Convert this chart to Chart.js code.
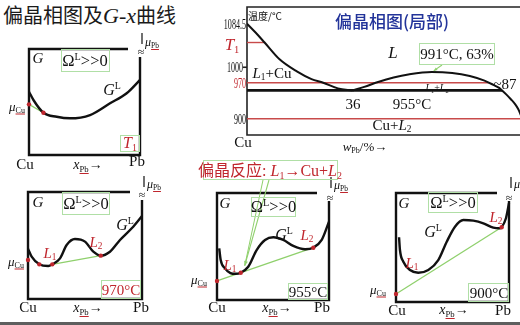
<!DOCTYPE html>
<html><head><meta charset="utf-8">
<script src="https://cdn.jsdelivr.net/npm/chart.js@4.4.1/dist/chart.umd.min.js"></script>
<style>
html,body{margin:0;padding:0;overflow:hidden}
body{width:520px;height:325px;background:#fff;position:relative;font-family:"Liberation Serif","Times New Roman",serif;color:#111}
canvas{position:absolute}
.t{position:absolute;white-space:nowrap;line-height:1;transform:translate(-50%,-50%)}
.bx{position:absolute;border:1.5px solid #b0dfa6;box-sizing:border-box}
.r{color:#c0262d}
i{font-style:italic}
sub{font-size:0.62em;vertical-align:-0.3em;line-height:0}
sup{font-size:0.62em;vertical-align:0.6em;line-height:0}
u{text-decoration-color:#c0262d;text-decoration-thickness:1px}
.cjk{font-family:"Noto Sans CJK SC",sans-serif}
</style></head><body>
<script>
// ================= DATA =================
// Local monotectic phase diagram: x = w(Pb)/%, y = temperature/°C
const pdXRange = [0, 93.8];
const pdTRange = [868.6, 1116.9];
const liqCuW = [0, 3, 6, 11, 17, 22, 26, 31, 36];
const liqCuT = [1084.5, 1067, 1048, 1016, 992, 977, 970, 959, 955];
const gapW = [36, 40, 45, 50, 55, 63, 70, 76, 81, 84, 86, 87, 88.5, 90, 91.5, 92.5, 93.2, 93.8];
const gapT = [955, 962, 972, 980, 986, 991, 989, 983, 974, 966, 960, 955, 947, 938, 928, 919, 910, 901];
const T1 = 1048;
const t1W = [0, 6];
const monoT = 955;
const monoW = [0, 87];
const isoT970 = 970;
const isoW970 = [0, 82.5];
const isoT900 = 900;
const isoW900 = [0, 93.8];
const criticalPoint = [63, 991];
const yTickValues = [1084.5, T1, 1000, 970, 900];
const yTickLabels = ['1084.5', '<i>T</i><sub>1</sub>', '1000', '970', '900'];

// G–x curves (x = x_Pb from 0 to 1, G in arbitrary units 0..100)
const gX1 = [0, 0.04, 0.13, 0.25, 0.37, 0.55, 0.73, 0.88, 1];
const gG1 = [59.7, 51.9, 39.9, 36.1, 34.6, 37.7, 48.8, 58.2, 70.8];
const dotX1 = [0, 0.13];
const dotG1 = [47.8, 39.9];

const gX2 = [0, 0.032, 0.099, 0.178, 0.213, 0.281, 0.339, 0.412, 0.5, 0.573, 0.638, 0.719, 0.807, 0.91, 1];
const gG2 = [47, 39.5, 32.4, 30.8, 32.4, 38.0, 50.5, 56.1, 53.6, 44.2, 40.5, 44.2, 55.1, 66.1, 77.6];
const dotX2 = [0, 0.099, 0.213, 0.638];
const dotG2 = [36.4, 32.4, 32.4, 40.5];

const gX3 = [0.02, 0.033, 0.071, 0.12, 0.165, 0.212, 0.279, 0.354, 0.429, 0.503, 0.592, 0.681, 0.786, 0.86, 0.935, 1];
const gG3 = [48.3, 37.4, 29.6, 25.2, 24.5, 25.5, 31.1, 46.7, 56.1, 58.6, 56.1, 50.5, 47.4, 48.9, 56.1, 73.2];
const dotX3 = [0, 0.212, 0.86];
const dotG3 = [17.8, 25.5, 48.9];

const gX4 = [0.027, 0.035, 0.065, 0.124, 0.197, 0.286, 0.374, 0.449, 0.522, 0.596, 0.684, 0.773, 0.861, 0.92, 0.935, 0.973, 1];
const gG4 = [59.4, 47.7, 37.0, 29.4, 26.9, 29.4, 38.5, 55.3, 69.1, 75.2, 74.6, 72.2, 68.2, 67.6, 68.6, 76.8, 90.6];
const dotX4 = [0, 0.935];
const dotG4 = [7.3, 68.6];

// ================= HELPERS =================
const RED = '#c0262d', REDLINE = '#c84a4a', GREEN = '#8fd06c', BLACK = '#111';
function pts(xs, ys) { return xs.map((x, i) => ({x: x, y: ys[i]})); }
function mk(left, top, w, h) {
  const c = document.createElement('canvas');
  c.width = w; c.height = h;
  c.style.left = left + 'px'; c.style.top = top + 'px';
  c.style.width = w + 'px'; c.style.height = h + 'px';
  document.body.appendChild(c);
  return c;
}
function T(html, x, y, style) {
  const d = document.createElement('div');
  d.className = 't'; d.innerHTML = html;
  d.style.left = x + 'px'; d.style.top = y + 'px';
  if (style) d.style.cssText += style;
  document.body.appendChild(d);
  return d;
}
function B(x1, y1, x2, y2) {
  const d = document.createElement('div');
  d.className = 'bx';
  d.style.left = x1 + 'px'; d.style.top = y1 + 'px';
  d.style.width = (x2 - x1) + 'px'; d.style.height = (y2 - y1) + 'px';
  document.body.appendChild(d);
}
function arrow(ctx, x1, y1, x2, y2, color, head) {
  ctx.save();
  ctx.strokeStyle = color; ctx.fillStyle = color; ctx.lineWidth = 1.1;
  ctx.beginPath(); ctx.moveTo(x1, y1); ctx.lineTo(x2, y2); ctx.stroke();
  const a = Math.atan2(y2 - y1, x2 - x1);
  ctx.beginPath();
  ctx.moveTo(x2, y2);
  ctx.lineTo(x2 - head * Math.cos(a - 0.4), y2 - head * Math.sin(a - 0.4));
  ctx.lineTo(x2 - head * Math.cos(a + 0.4), y2 - head * Math.sin(a + 0.4));
  ctx.closePath(); ctx.fill();
  ctx.restore();
}

const gFrame = {
  id: 'gFrame',
  beforeDatasetsDraw(chart) {
    const {ctx, chartArea: a} = chart;
    ctx.save();
    ctx.strokeStyle = BLACK; ctx.lineWidth = 2.4; ctx.lineJoin = 'miter';
    ctx.beginPath();
    ctx.moveTo(a.right - 12, a.top);
    ctx.lineTo(a.left, a.top);
    ctx.lineTo(a.left, a.bottom);
    ctx.lineTo(a.right, a.bottom);
    ctx.lineTo(a.right, a.top + 8);
    ctx.stroke();
    ctx.lineWidth = 1.2;
    ctx.beginPath(); ctx.moveTo(a.right + 2, a.top - 16); ctx.lineTo(a.right + 2, a.top - 5); ctx.stroke();
    ctx.restore();
  }
};

function gPanel(box, xs, gs, dx, dg, tanIdx, extra) {
  const [L, Tp, R, Bt] = box;
  const c = mk(L - 10, Tp - 20, R - L + 20, Bt - Tp + 30);
  const tan = tanIdx.map(i => ({x: dx[i], y: dg[i]}));
  return new Chart(c, {
    type: 'line',
    data: {datasets: [
      {data: pts(dx, dg), showLine: false, pointRadius: 2.2, pointBackgroundColor: RED, pointBorderWidth: 0, order: 0, clip: false},
      {data: pts(xs, gs), borderColor: BLACK, borderWidth: 2.4, pointRadius: 0, cubicInterpolationMode: 'monotone', order: 1, clip: false},
      {data: tan, borderColor: GREEN, borderWidth: 1.3, pointRadius: 0, order: 2, clip: false}
    ]},
    options: {
      responsive: false, animation: false, events: [],
      layout: {padding: {left: 10, right: 10, top: 20, bottom: 10}},
      plugins: {legend: {display: false}, tooltip: {enabled: false}},
      scales: {x: {type: 'linear', min: 0, max: 1, display: false}, y: {type: 'linear', min: 0, max: 100, display: false}}
    },
    plugins: [gFrame].concat(extra || [])
  });
}

// ================= PHASE DIAGRAM =================
const phaseFrame = {
  id: 'phaseFrame',
  beforeDatasetsDraw(chart) {
    const {ctx, chartArea: a, scales: {y}} = chart;
    ctx.save();
    ctx.strokeStyle = '#222'; ctx.lineWidth = 1.6;
    ctx.beginPath();
    ctx.moveTo(a.right + 2, a.top); ctx.lineTo(a.left, a.top); ctx.lineTo(a.left, a.bottom); ctx.lineTo(a.right + 2, a.bottom);
    ctx.stroke();
    const ty = y.getPixelForValue(1000);
    ctx.beginPath(); ctx.moveTo(a.left - 4, ty); ctx.lineTo(a.left, ty); ctx.stroke();
    ctx.restore();
  }
};
const phaseArrow = {
  id: 'phaseArrow',
  afterDatasetsDraw(chart) {
    const {ctx, scales: {x, y}} = chart;
    const tx = x.getPixelForValue(criticalPoint[0]) + 2, ty = y.getPixelForValue(criticalPoint[1]) - 1;
    arrow(ctx, 442 - 200, 65, tx, ty, GREEN, 4);
  }
};
const pc = mk(200, 0, 322, 160);
const hline = (w, t, color, width, ord) => ({data: [{x: w[0], y: t}, {x: w[1], y: t}], borderColor: color, borderWidth: width, pointRadius: 0, order: ord});
const phase = new Chart(pc, {
  type: 'line',
  data: {datasets: [
    {data: pts(liqCuW, liqCuT), borderColor: BLACK, borderWidth: 2, pointRadius: 0, cubicInterpolationMode: 'monotone', order: 0},
    {data: pts(gapW, gapT), borderColor: BLACK, borderWidth: 2, pointRadius: 0, cubicInterpolationMode: 'monotone', order: 0},
    hline(monoW, monoT, BLACK, 2.8, 1),
    hline(t1W, T1, REDLINE, 1.4, 2),
    hline(isoW970, isoT970, REDLINE, 1.4, 2),
    hline(isoW900, isoT900, REDLINE, 1.4, 2)
  ]},
  options: {
    responsive: false, animation: false, events: [],
    layout: {padding: {left: 47, top: 7, right: 0, bottom: 25}},
    plugins: {legend: {display: false}, tooltip: {enabled: false}},
    scales: {
      x: {type: 'linear', min: pdXRange[0], max: pdXRange[1], display: false},
      y: {type: 'linear', min: pdTRange[0], max: pdTRange[1], display: false}
    }
  },
  plugins: [phaseFrame, phaseArrow]
});
// y tick labels placed via the scale
yTickValues.forEach((v, i) => {
  const py = phase.scales.y.getPixelForValue(v);
  const red = (i === 1 || i === 3);
  if (i === 1) {
    T(yTickLabels[i], 232, py + 1, 'font-size:17px;color:' + RED);
  } else {
    const right = (i === 2) ? 243 : 246;
    T(yTickLabels[i], right, py, 'font-size:15.5px;transform-origin:right center;transform:translate(-100%,-50%) scaleX(0.52);' + (red ? 'color:' + RED : ''));
  }
});
T('温度/°C', 265, 16, 'font-size:10px;font-family:\'Noto Sans CJK SC\',sans-serif');
T('偏晶相图(局部)', 392, 20, 'font-size:17px;color:#23349a;font-weight:500;font-family:\'Noto Sans CJK SC\',sans-serif');
T('<i>L</i>', 393, 52, 'font-size:17px');
B(419, 43, 495, 65);
T('991°C, 63%', 457, 54, 'font-size:15px');
T('<i>L</i><sub>1</sub>+Cu', 272, 73, 'font-size:15px');
T('<i>L</i><sub>1</sub>+<i>L</i><sub>2</sub>', 437, 88, 'font-size:10px');
T('~87', 505, 84, 'font-size:15px');
T('36', 353, 104, 'font-size:15px');
T('955°C', 412, 104, 'font-size:15px');
T('Cu+<i>L</i><sub>2</sub>', 392, 125, 'font-size:15px');
T('Cu', 243, 142, 'font-size:15px');
T('<i>w</i><sub>Pb</sub>/%→', 365, 146, 'font-size:13px');

// ================= TITLE =================
T('偏晶相图及<i style="font-family:\'Liberation Serif\',serif;font-size:22px">G-x</i>曲线', 3, 16,
  'font-size:20px;font-family:\'Noto Sans CJK SC\',sans-serif;transform:translate(0,-50%);color:#1a1a1a');

// ================= PANEL 1 (T1) =================
gPanel([29, 49, 140, 155], gX1, gG1, dotX1, dotG1, [0, 1]);
T('<i>G</i>', 38, 58, 'font-size:15px');
B(61, 49, 110, 72);
T('Ω<sup>L</sup>&gt;&gt;0', 85, 61, 'font-size:16.5px');
T('<i>G</i><sup>L</sup>', 112, 90, 'font-size:16px');
T('<i>μ</i><sub><u>Cu</u></sub>', 17, 106, 'font-size:13px');
B(120, 135, 140, 152);
T('<i>T</i><sub>1</sub>', 130, 143, 'font-size:16px;color:' + RED);
T('≈', 141, 52, 'font-size:12px');
T('<i>μ</i><sub><u>Pb</u></sub>', 152, 42, 'font-size:12px');
T('Cu', 25, 164, 'font-size:15px');
T('<i>x</i><sub><u>Pb</u></sub>→', 88, 165, 'font-size:14px');
T('Pb', 137, 161, 'font-size:15px');

// ================= PANEL 2 (970°C) =================
gPanel([28, 192, 142, 299], gX2, gG2, dotX2, dotG2, [2, 3]);
T('<i>G</i>', 38, 202, 'font-size:15px');
B(62, 192, 110, 215);
T('Ω<sup>L</sup>&gt;&gt;0', 86, 204, 'font-size:16.5px');
T('<i>G</i><sup>L</sup>', 125, 225, 'font-size:16px');
T('<i>L</i><sub>1</sub>', 50, 253, 'font-size:15px;color:' + RED);
T('<i>L</i><sub>2</sub>', 96, 242, 'font-size:15px;color:' + RED);
T('<i>μ</i><sub><u>Cu</u></sub>', 16, 261, 'font-size:13px');
B(101, 280, 141, 299);
T('970°C', 121, 290, 'font-size:15px;color:' + RED);
T('≈', 142, 195, 'font-size:12px');
T('<i>μ</i><sub><u>Pb</u></sub>', 154, 184, 'font-size:12px');
T('Cu', 28, 307, 'font-size:15px');
T('<i>x</i><sub><u>Pb</u></sub>→', 88, 308, 'font-size:14px');
T('Pb', 141, 307, 'font-size:15px');

// ================= PANEL 3 (955°C) =================
const arrow3 = {
  id: 'arrow3',
  afterDatasetsDraw(chart) {
    const {ctx, scales: {x, y}} = chart;
    const ox = 207, oy = 173;
    const tx = x.getPixelForValue(dotX3[1]) + 4, ty = y.getPixelForValue(dotG3[1]) - 7;
    ctx.save(); ctx.strokeStyle = GREEN; ctx.lineWidth = 1;
    ctx.beginPath(); ctx.moveTo(263 - ox, 180 - oy); ctx.lineTo(tx, ty); ctx.stroke();
    ctx.restore();
    arrow(ctx, 269 - ox, 180 - oy, tx, ty, GREEN, 5);
  }
};
gPanel([217, 193, 329, 300], gX3, gG3, dotX3, dotG3, [0, 2], [arrow3]);
B(203, 160, 338, 180);
T('<span class="cjk">偏晶反应</span>: <i>L</i><sub>1</sub>→Cu+<i>L</i><sub>2</sub>', 270, 170, 'font-size:16px;color:' + RED);
T('<i>G</i>', 225, 203, 'font-size:15px');
B(251, 197, 296, 217);
T('Ω<sup>L</sup>&gt;&gt;0', 273.5, 207, 'font-size:16.5px');
T('<i>G</i><sup>L</sup>', 284, 235, 'font-size:16px');
T('<i>L</i><sub>2</sub>', 307, 235, 'font-size:15px;color:' + RED);
T('<i>L</i><sub>1</sub>', 230, 265, 'font-size:15px;color:' + RED);
T('<i>μ</i><sub><u>Cu</u></sub>', 199, 279, 'font-size:13px');
B(288, 283, 328, 300);
T('955°C', 308, 292, 'font-size:15px');
T('≈', 330, 198, 'font-size:12px');
T('<i>μ</i><sub><u>Pb</u></sub>', 341, 185, 'font-size:12px');
T('Cu', 217, 307, 'font-size:15px');
T('<i>x</i><sub><u>Pb</u></sub>→', 277, 308, 'font-size:14px');
T('Pb', 322, 307, 'font-size:15px');

// ================= PANEL 4 (900°C) =================
gPanel([396, 193, 509, 302], gX4, gG4, dotX4, dotG4, [0, 1]);
T('<i>G</i>', 404, 203, 'font-size:15px');
B(428, 192, 478, 213);
T('Ω<sup>L</sup>&gt;&gt;0', 453, 203, 'font-size:16.5px');
T('<i>G</i><sup>L</sup>', 433, 232, 'font-size:16px');
T('<i>L</i><sub>1</sub>', 412, 263, 'font-size:15px;color:' + RED);
T('<i>L</i><sub>2</sub>', 496, 217, 'font-size:15px;color:' + RED);
T('<i>μ</i><sub><u>Cu</u></sub>', 378, 289, 'font-size:13px');
B(468, 283, 509, 302);
T('900°C', 489, 293, 'font-size:15px');
T('≈', 509, 198, 'font-size:12px');
T('<i>μ</i><sub><u>Pb</u></sub>', 521, 184, 'font-size:12px');
T('Cu', 397, 310, 'font-size:15px');
T('<i>x</i><sub><u>Pb</u></sub>→', 454, 310, 'font-size:14px');
T('Pb', 503, 310, 'font-size:15px');

// bottom grey strip
const strip = document.createElement('div');
strip.style.cssText = 'position:absolute;left:0;top:322px;width:520px;height:3px;background:#5e5e5e';
document.body.appendChild(strip);
</script>
</body></html>
